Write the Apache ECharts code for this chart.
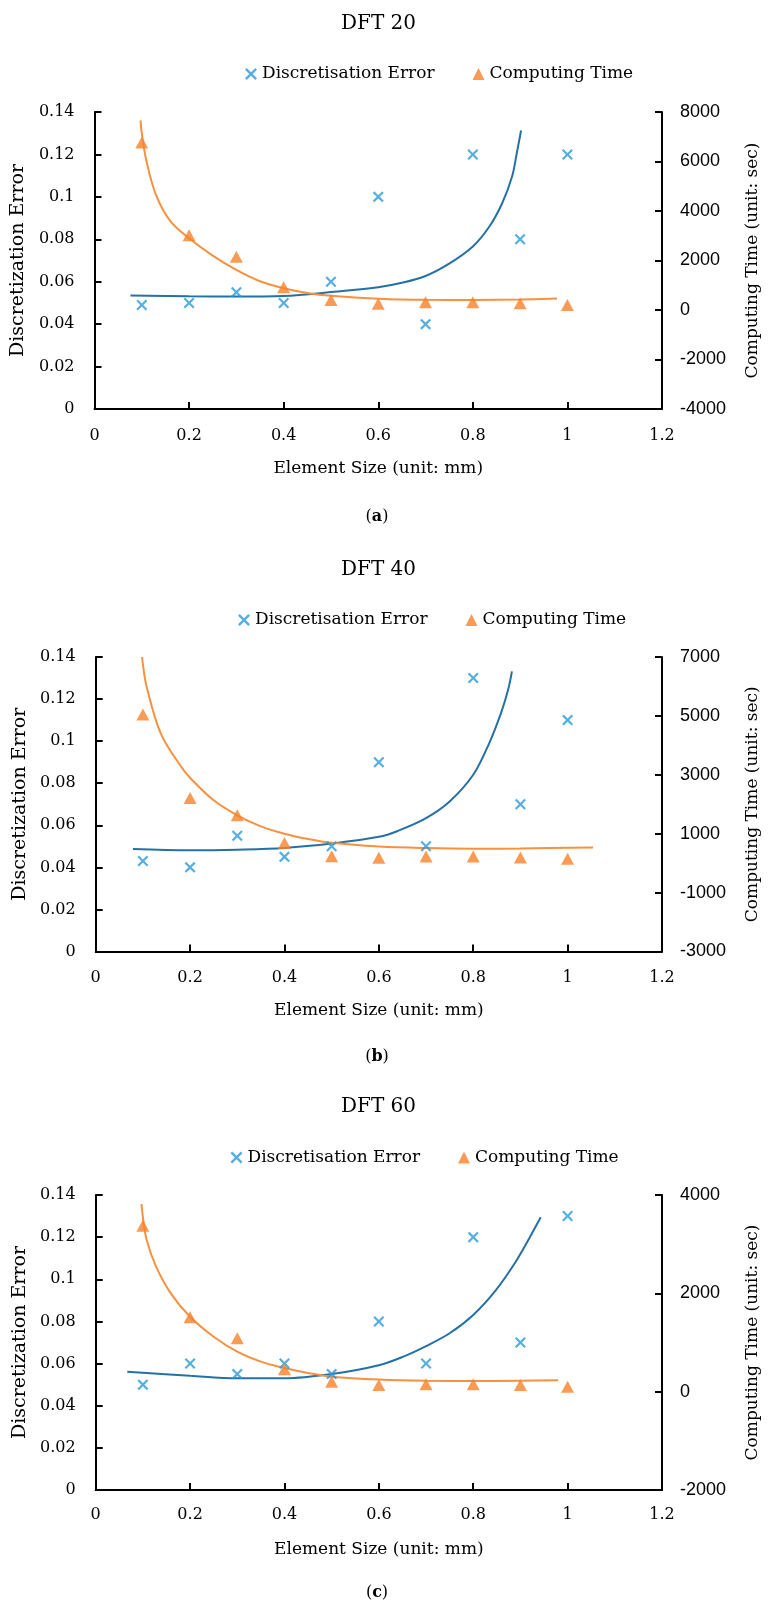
<!DOCTYPE html>
<html>
<head>
<meta charset="utf-8">
<title>DFT element size study</title>
<script src="https://cdn.jsdelivr.net/npm/echarts@6/dist/echarts.min.js"></script>
<style>
  html, body { margin: 0; padding: 0; background: #fff; }
  #main { width: 769px; height: 1603px; }
</style>
</head>
<body>
<div id="main"></div>
<script>
// element sizes (mm)
var sizes = [0.1, 0.2, 0.3, 0.4, 0.5, 0.6, 0.7, 0.8, 0.9, 1.0];

// DFT 20
var errA = [0.049, 0.05, 0.055, 0.05, 0.06, 0.1, 0.04, 0.12, 0.08, 0.12];
var timeA = [6770, 3020, 2150, 920, 400, 250, 315, 315, 275, 205];
var errFitA = [[0.076, 0.0535], [0.2, 0.0531], [0.3, 0.053], [0.4, 0.0533], [0.5, 0.0551], [0.6, 0.0574],
  [0.65, 0.0595], [0.7, 0.0627], [0.75, 0.0685], [0.8, 0.0766], [0.835, 0.086], [0.862, 0.097],
  [0.883, 0.1096], [0.893, 0.1207], [0.902, 0.1313]];
var timeFitA = [[0.0974, 7660], [0.1, 7150], [0.11, 6000], [0.13, 4650], [0.16, 3600], [0.2, 2900],
  [0.25, 2200], [0.3, 1620], [0.35, 1160], [0.4, 880], [0.45, 690], [0.5, 575], [0.6, 455],
  [0.7, 412], [0.8, 408], [0.9, 425], [0.978, 460]];

// DFT 40
var errB = [0.043, 0.04, 0.055, 0.045, 0.05, 0.09, 0.05, 0.13, 0.07, 0.11];
var timeB = [5050, 2215, 1626, 684, 231, 187, 227, 227, 193, 149];
var errFitB = [[0.079, 0.0487], [0.2, 0.0481], [0.3, 0.0484], [0.4, 0.0492], [0.5, 0.0513], [0.6, 0.0545],
  [0.64, 0.0573], [0.7, 0.0634], [0.75, 0.0713], [0.8, 0.084], [0.834, 0.0991], [0.859, 0.1134],
  [0.874, 0.1245], [0.882, 0.1332]];
var timeFitB = [[0.0985, 7000], [0.1, 6750], [0.108, 5990], [0.138, 4400], [0.18, 3300], [0.2, 2900],
  [0.25, 2136], [0.3, 1626], [0.35, 1250], [0.4, 1000], [0.45, 820], [0.5, 690], [0.6, 565],
  [0.7, 512], [0.8, 490], [0.9, 499], [1.054, 533]];

// DFT 60
var errC = [0.05, 0.06, 0.055, 0.06, 0.055, 0.08, 0.06, 0.12, 0.07, 0.13];
var timeC = [3376, 1512, 1085, 455, 203, 136, 149, 149, 136, 101];
var errFitC = [[0.067, 0.0561], [0.2, 0.0542], [0.3, 0.053], [0.4, 0.053], [0.5, 0.055], [0.6, 0.0592],
  [0.652, 0.0633], [0.7, 0.0683], [0.75, 0.0744], [0.8, 0.0831], [0.848, 0.0949], [0.889, 0.108],
  [0.92, 0.12], [0.943, 0.1294]];
var timeFitC = [[0.097, 3817], [0.1, 3550], [0.108, 3085], [0.128, 2542], [0.159, 2000], [0.2, 1525],
  [0.25, 1118], [0.3, 813], [0.35, 610], [0.4, 480], [0.45, 380], [0.5, 305], [0.6, 245],
  [0.7, 220], [0.8, 216], [0.9, 223], [0.98, 230]];

// axis ticks
var xTicks = [0, 0.2, 0.4, 0.6, 0.8, 1, 1.2];
var errTicks = [0, 0.02, 0.04, 0.06, 0.08, 0.1, 0.12, 0.14];
var timeTicksA = [-4000, -2000, 0, 2000, 4000, 6000, 8000];
var timeTicksB = [-3000, -1000, 1000, 3000, 5000, 7000];
var timeTicksC = [-2000, 0, 2000, 4000];

var titles = ['DFT 20', 'DFT 40', 'DFT 60'];
var tags = ['a', 'b', 'c'];
var errName = 'Discretisation Error';
var timeName = 'Computing Time';

var panels = [
  { err: errA, time: timeA, errFit: errFitA, timeFit: timeFitA, ticks: timeTicksA },
  { err: errB, time: timeB, errFit: errFitB, timeFit: timeFitB, ticks: timeTicksB },
  { err: errC, time: timeC, errFit: errFitC, timeFit: timeFitC, ticks: timeTicksC }
];

// layout of each panel (pixels)
var layout = [
  { top: 112, height: 297, left: 94.5, right: 97, titleY: 23.5, legendX: 245, legendY: 65.5, tagY: 517, labelGap: 19 },
  { top: 657, height: 294.5, left: 95.7, right: 101, titleY: 569.5, legendX: 238, legendY: 611.5, tagY: 1057, labelGap: 18 },
  { top: 1195, height: 295, left: 95.7, right: 100, titleY: 1107, legendX: 230.5, legendY: 1149, tagY: 1593, labelGap: 17 }
];

var serif = 'DejaVu Serif';
var sans = 'Liberation Sans';
var xMark = 'path://M1.4,0L5,3.6L8.6,0L10,1.4L6.4,5L10,8.6L8.6,10L5,6.4L1.4,10L0,8.6L3.6,5L0,1.4Z';
var blue = '#2A9AD8', blueLine = '#2471A6', orange = '#F7822A', orangeLine = '#F8913F';

var chart = echarts.init(document.getElementById('main'));

var axisLine = { show: true, onZero: false, lineStyle: { color: '#000', width: 2 } };
var axisTick = { show: true, inside: true, length: 7, lineStyle: { color: '#000', width: 2 } };

var grids = [], xAxes = [], yAxes = [], series = [], legends = [], graphics = [];

panels.forEach(function (p, i) {
  var L = layout[i];
  grids.push({ left: L.left, right: L.right, top: L.top, height: L.height, containLabel: false });

  xAxes.push({
    gridIndex: i, type: 'value',
    min: xTicks[0], max: xTicks[xTicks.length - 1], interval: xTicks[1] - xTicks[0],
    axisLine: axisLine, axisTick: axisTick, splitLine: { show: false },
    axisLabel: { margin: L.labelGap, fontFamily: serif, fontSize: 16, color: '#000' },
    name: 'Element Size (unit: mm)', nameLocation: 'middle', nameGap: 51,
    nameTextStyle: { fontFamily: serif, fontSize: 17, color: '#000' }
  });

  yAxes.push({
    gridIndex: i, type: 'value', position: 'left',
    min: errTicks[0], max: errTicks[errTicks.length - 1], interval: errTicks[1] - errTicks[0],
    axisLine: axisLine, axisTick: axisTick, splitLine: { show: false },
    axisLabel: { margin: 20, fontFamily: serif, fontSize: 16, color: '#000' },
    name: 'Discretization Error', nameLocation: 'middle', nameRotate: 90, nameGap: 63,
    nameTextStyle: { fontFamily: serif, fontSize: 19, color: '#000' }
  });

  yAxes.push({
    gridIndex: i, type: 'value', position: 'right',
    min: p.ticks[0], max: p.ticks[p.ticks.length - 1], interval: p.ticks[1] - p.ticks[0],
    axisLine: axisLine, axisTick: axisTick, splitLine: { show: false },
    axisLabel: {
      margin: 18, fontFamily: sans, fontSize: 18, color: '#000',
      formatter: function (v) { return String(v); }
    },
    name: 'Computing Time (unit: sec)', nameLocation: 'middle', nameRotate: 90, nameGap: 82,
    nameTextStyle: { fontFamily: serif, fontSize: 17, color: '#000' }
  });

  series.push({
    type: 'line', name: 'errFit' + i, xAxisIndex: i, yAxisIndex: 2 * i,
    data: p.errFit, smooth: 0.35, symbol: 'none', silent: true, z: 2,
    lineStyle: { color: blueLine, width: 2 }
  });
  series.push({
    type: 'line', name: 'timeFit' + i, xAxisIndex: i, yAxisIndex: 2 * i + 1,
    data: p.timeFit, smooth: 0.35, symbol: 'none', silent: true, z: 2,
    lineStyle: { color: orangeLine, width: 2 }
  });
  series.push({
    type: 'scatter', name: errName, xAxisIndex: i, yAxisIndex: 2 * i,
    data: sizes.map(function (s, k) { return [s, p.err[k]]; }),
    symbol: xMark, symbolSize: 11, itemStyle: { color: blue }, z: 3
  });
  series.push({
    type: 'scatter', name: timeName, xAxisIndex: i, yAxisIndex: 2 * i + 1,
    data: sizes.map(function (s, k) { return [s, p.time[k]]; }),
    symbol: 'triangle', symbolSize: [13, 12], itemStyle: { color: orange }, z: 3
  });

  legends.push({
    left: L.legendX, top: L.legendY, orient: 'horizontal', selectedMode: false, padding: 0,
    itemWidth: 12, itemHeight: 12, itemGap: 38,
    data: [{ name: errName, icon: xMark }, { name: timeName, icon: 'triangle' }],
    textStyle: { fontFamily: serif, fontSize: 17, color: '#000' }
  });

  graphics.push({
    type: 'text', x: 378.5, y: L.titleY,
    style: { text: titles[i], align: 'center', verticalAlign: 'middle', font: '20px "DejaVu Serif"', fill: '#000' }
  });
  graphics.push({
    type: 'text', x: 377, y: L.tagY,
    style: {
      text: '({b|' + tags[i] + '})', align: 'center', verticalAlign: 'middle',
      font: '16px "DejaVu Serif"', fill: '#000',
      rich: { b: { fontWeight: 'bold', fontFamily: serif, fontSize: 16, fill: '#000' } }
    }
  });
});

chart.setOption({
  animation: false,
  backgroundColor: '#fff',
  grid: grids,
  xAxis: xAxes,
  yAxis: yAxes,
  legend: legends,
  graphic: graphics,
  series: series
});
</script>
</body>
</html>
